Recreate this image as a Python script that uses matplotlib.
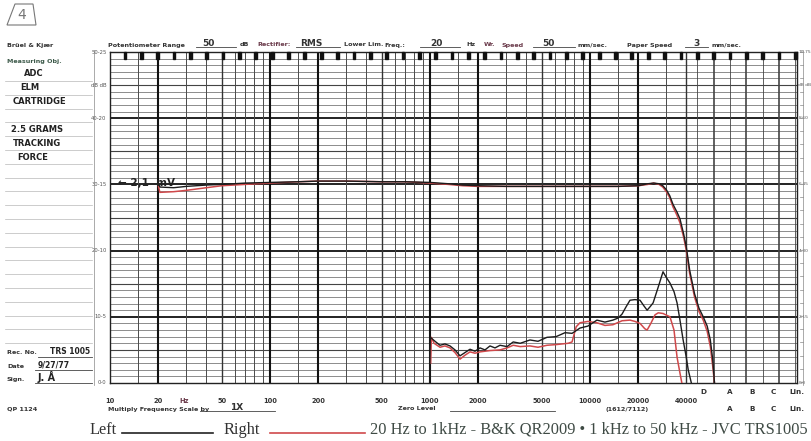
import numpy as np
import matplotlib
matplotlib.use("Agg")
import matplotlib.pyplot as plt
from matplotlib.lines import Line2D
from matplotlib.patches import Polygon

W, H = 812, 441

# ---- data (Hz, dB on the 50 dB potentiometer scale) ----
resp_f = [20, 20.5, 25, 30, 40, 50, 70, 100, 150, 200, 300, 500, 700, 1000, 1300,
          1600, 2000, 3000, 5000, 7000, 10000, 15000, 20000, 23000, 25000, 27000,
          28500, 30000, 31500, 33000, 35000, 36500, 38500, 40000, 42000, 45000,
          48000, 51000, 54000, 56500, 58500, 60000]
resp_left = [30.3, 29.6, 29.5, 29.7, 29.9, 30.0, 30.2, 30.3, 30.4, 30.5, 30.5, 30.4,
             30.4, 30.3, 30.1, 29.9, 29.8, 29.7, 29.7, 29.7, 29.7, 29.7, 29.8, 30.1,
             30.2, 30.1, 29.8, 29.2, 28.3, 27.0, 25.8, 24.8, 22.5, 20.5, 17.0, 13.5,
             11.3, 10.0, 8.6, 6.5, 3.5, 0.0]
resp_right = [29.9, 28.8, 28.9, 29.1, 29.5, 29.8, 30.0, 30.2, 30.4, 30.5, 30.5, 30.4,
              30.4, 30.2, 30.0, 29.8, 29.7, 29.7, 29.7, 29.7, 29.7, 29.7, 29.8, 30.0,
              30.2, 30.0, 29.6, 28.9, 28.0, 26.6, 25.3, 24.2, 22.0, 20.0, 16.5, 13.0,
              10.8, 9.5, 7.8, 5.5, 2.5, 0.0]

dist_left_f = [995, 1000, 1005, 1075, 1155, 1240, 1334, 1433, 1540, 1655, 1778, 1911,
               2054, 2207, 2371, 2548, 2738, 3030, 3311, 3664, 4217, 4732, 5383, 6132,
               6982, 7723, 8660, 9705, 11050, 12400, 13900, 14950, 15850, 16800, 17780,
               19100, 20540, 21800, 22750, 23700, 24800, 26700, 28600, 29900, 31600,
               33500, 35000, 36500, 38200, 39900, 41100, 43000]
dist_left = [0.0, 5.5, 6.9, 6.3, 5.7, 5.9, 5.6, 5.0, 4.1, 4.6, 5.1, 4.8, 5.3, 5.0, 5.6,
             5.3, 5.7, 5.5, 6.2, 6.0, 6.5, 6.3, 6.9, 7.0, 7.6, 7.5, 8.3, 8.6, 9.5, 9.2,
             9.5, 9.8, 10.4, 11.5, 12.5, 12.6, 12.5, 11.6, 11.0, 11.5, 12.1, 14.5, 16.8,
             16.0, 15.1, 13.8, 12.1, 9.5, 6.5, 4.0, 2.0, 0.0]
dist_right_f = [1010, 1020, 1060, 1155, 1240, 1334, 1433, 1540, 1655, 1778, 1911, 2054,
                2371, 2738, 3030, 3311, 3664, 4217, 4732, 5383, 6132, 7300, 7723, 8200,
                8660, 9705, 11050, 12400, 13900, 15850, 17780, 19100, 20540, 22000,
                22750, 24000, 25500, 26700, 28600, 31600, 33500, 35000, 36500, 37500]
dist_right = [3.0, 6.9, 6.0, 5.4, 5.6, 5.3, 4.6, 3.6, 4.2, 4.7, 4.5, 4.7, 4.9, 5.0, 5.3,
              5.7, 5.5, 5.6, 5.4, 5.7, 5.8, 6.0, 6.2, 8.5, 9.1, 9.3, 9.1, 8.7, 8.8, 9.4,
              9.5, 9.3, 9.0, 8.2, 8.0, 9.0, 10.3, 10.6, 10.5, 10.0, 8.0, 3.9, 1.5, 0.0]

freq_labels = ["10", "20", "50", "100", "200", "500", "1000", "2000", "5000",
               "10000", "20000", "40000"]
freq_label_vals = [10, 20, 50, 100, 200, 500, 1000, 2000, 5000, 10000, 20000, 40000]
weight_labels = ["D", "A", "B", "C", "Lin."]
left_scale = ["50-25", "dB dB", "40-20", "30-15", "20-10", "10-5", "0-0"]
right_scale = ["10-75", "dB dB", "8-60", "6-45", "4-30", "2-15", "0-0"]
scale_db = [50, 45, 40, 30, 20, 10, 0]

FMIN = 10
FMAX = 10 ** (1 + 687 / 160)
LEFT_C, RIGHT_C = "#1c1c1c", "#d0494b"


def fx(px):
    return px / W


def fy(py):
    return 1 - py / H


def ftext(x, y, s, **kw):
    kw.setdefault("fontsize", 4.6)
    kw.setdefault("fontweight", "bold")
    kw.setdefault("color", "#333333")
    kw.setdefault("va", "center")
    fig.text(fx(x), fy(y), s, **kw)


def fline(x0, x1, y0, y1=None, **kw):
    y1 = y0 if y1 is None else y1
    kw.setdefault("color", "#444444")
    kw.setdefault("lw", 0.6)
    fig.add_artist(Line2D([fx(x0), fx(x1)], [fy(y0), fy(y1)], **kw))


fig = plt.figure(figsize=(W / 100, H / 100), dpi=100, facecolor="white")
ax = fig.add_axes([fx(110), fy(383), 687 / W, 331 / H])
ax.set_xscale("log")
ax.set_xlim(FMIN, FMAX)
ax.set_ylim(0, 50)
ax.set_xticks([])
ax.set_yticks([])
ax.minorticks_off()
for s in ax.spines.values():
    s.set_color("#222222")
    s.set_linewidth(1.0)

# horizontal grid: 1 dB lines, heavier every 5 / 10 dB
for d in range(1, 50):
    if d % 10 == 0:
        ax.axhline(d, color="#111111", lw=1.3, zorder=1)
    elif d % 5 == 0:
        ax.axhline(d, color="#444444", lw=0.8, zorder=1)
    else:
        ax.axhline(d, color="#6e6e6e", lw=0.55, zorder=1)

# vertical grid on the log frequency part
heavy = [20, 100, 200, 1000, 2000, 10000, 20000]
medium = [50, 500, 5000, 40000]
light = [15, 30, 40, 60, 70, 80, 90, 150, 300, 400, 600, 700, 800, 900,
         1500, 3000, 4000, 6000, 7000, 8000, 9000, 15000, 30000]
for f in heavy:
    ax.axvline(f, color="#111111", lw=1.5, zorder=1)
for f in medium:
    ax.axvline(f, color="#333333", lw=1.0, zorder=1)
for f in light:
    ax.axvline(f, color="#4a4a4a", lw=0.7, zorder=1)

# evenly spaced weighting columns and sprocket marks along the top
col_px = np.arange(125, 797, 16.35)
for i, cx in enumerate(col_px):
    frac = (cx - 110) / 687
    if cx > 690:
        ax.axvline(FMIN * 10 ** (frac * 687 / 160), color="#444444",
                   lw=1.2 if i % 2 == 0 else 0.6, zorder=1)
    ax.add_patch(plt.Rectangle((frac - 0.002, 0.978), 0.004, 0.022,
                               transform=ax.transAxes, color="#111111",
                               zorder=3, clip_on=False))

# recorded curves
ax.plot(resp_f, resp_right, color=RIGHT_C, lw=1.1, zorder=4)
ax.plot(resp_f, resp_left, color=LEFT_C, lw=1.0, zorder=5)
ax.plot(dist_right_f, dist_right, color=RIGHT_C, lw=1.1, zorder=4)
ax.plot(dist_left_f, dist_left, color=LEFT_C, lw=1.0, zorder=5)

# frequency labels below axis
for lab, f in zip(freq_labels, freq_label_vals):
    ax.text(f, -2.7, lab, ha="center", va="center", fontsize=4.8,
            fontweight="bold", color="#333333")
ax.text(29, -2.7, "Hz", ha="center", va="center", fontsize=4.8,
        fontweight="bold", color="#6a3a4a")
for lab, px in zip(weight_labels, [703, 730, 752, 773, 797]):
    ftext(px, 392, lab, ha="center", fontsize=5.2)

# side scales
for lab, d in zip(left_scale, scale_db):
    ax.text(-0.005, d / 50, lab, transform=ax.transAxes, ha="right", va="center",
            fontsize=3.8, color="#555555")
for lab, d in zip(right_scale, scale_db):
    ax.text(1.002, d / 50, lab, transform=ax.transAxes, ha="left", va="center",
            fontsize=3.2, color="#555555")
fline(94, 94, 50, 385, color="#888888", lw=0.5)
fline(803, 803, 50, 385, color="#888888", lw=0.5)
for py in np.arange(52, 384, 13.2):
    fline(800, 803, py, color="#888888", lw=0.5)

# "4" box
fig.add_artist(Polygon([[fx(7), fy(25)], [fx(15), fy(4)], [fx(33), fy(4)],
                        [fx(36), fy(25)]], closed=True, fill=False,
                       edgecolor="#777777", lw=0.8, transform=fig.transFigure))
ftext(22, 15, "4", ha="center", fontsize=10, fontweight="normal", color="#777777")

# header line
ftext(7, 45, "Brüel & Kjær")
ftext(108, 45, "Potentiometer Range")
ftext(202, 43, "50", fontsize=6.5)
fline(196, 236, 47)
ftext(240, 45, "dB")
ftext(257, 45, "Rectifier:", color="#6a3a4a")
ftext(300, 43, "RMS", fontsize=6.5)
fline(296, 340, 47)
ftext(344, 45, "Lower Lim.")
ftext(384, 45, "Freq.:")
ftext(430, 43, "20", fontsize=6.5)
fline(420, 460, 47)
ftext(466, 45, "Hz")
ftext(484, 45, "Wr.", color="#6a3a4a")
ftext(501, 45, "Speed", color="#6a3a4a")
ftext(542, 43, "50", fontsize=6.5)
fline(533, 575, 47)
ftext(578, 45, "mm/sec.")
ftext(627, 45, "Paper Speed")
ftext(693, 43, "3", fontsize=6.5)
fline(685, 708, 47)
ftext(712, 45, "mm/sec.")

# measuring object panel
ftext(7, 62, "Measuring Obj.", color="#3d5a4a")
for py in np.arange(81, 345, 13.8):
    fline(5, 92, py, color="#b8b8b8", lw=0.5)
hand = dict(fontsize=6, fontweight="bold", color="#222222")
ftext(24, 74, "ADC", **hand)
ftext(20, 88, "ELM", **hand)
ftext(13, 101, "CARTRIDGE", **hand)
ftext(11, 129, "2.5 GRAMS", **hand)
ftext(13, 143, "TRACKING", **hand)
ftext(17, 157, "FORCE", **hand)
ftext(118, 183, "← 2,1  mV", fontsize=7.5, fontweight="bold", color="#222222")

ftext(7, 353, "Rec. No.")
ftext(50, 352, "TRS 1005", fontsize=5.5, color="#222222")
fline(38, 92, 357)
ftext(7, 366, "Date")
ftext(38, 365, "9/27/77", fontsize=5.5, color="#222222")
fline(35, 92, 370)
ftext(7, 379, "Sign.")
ftext(38, 377, "J. Å", fontsize=7, color="#222222")
fline(35, 92, 383)

# footer
ftext(7, 409, "QP 1124")
ftext(108, 409, "Multiply Frequency Scale by")
ftext(230, 407, "1X", fontsize=6.5)
fline(200, 275, 411)
ftext(398, 409, "Zero Level")
fline(450, 555, 411)
ftext(606, 409, "(1612/7112)")
for lab, px in zip(weight_labels[1:], [730, 752, 773, 797]):
    ftext(px, 409, lab, ha="center", fontsize=5.2)

serif = dict(fontsize=11.8, fontweight="normal", family="Liberation Serif")
ftext(90, 430, "Left", color="#333333", **serif)
fline(122, 213, 433, color="#222222", lw=1.2)
ftext(224, 430, "Right", color="#333333", **serif)
fline(270, 365, 433, color=RIGHT_C, lw=1.2)
ftext(370, 430, "20 Hz to 1kHz - B&K QR2009 • 1 kHz to 50 kHz - JVC TRS1005",
      color="#3e4a44", **serif)

fig.savefig("out.png", dpi=100, facecolor="white")
